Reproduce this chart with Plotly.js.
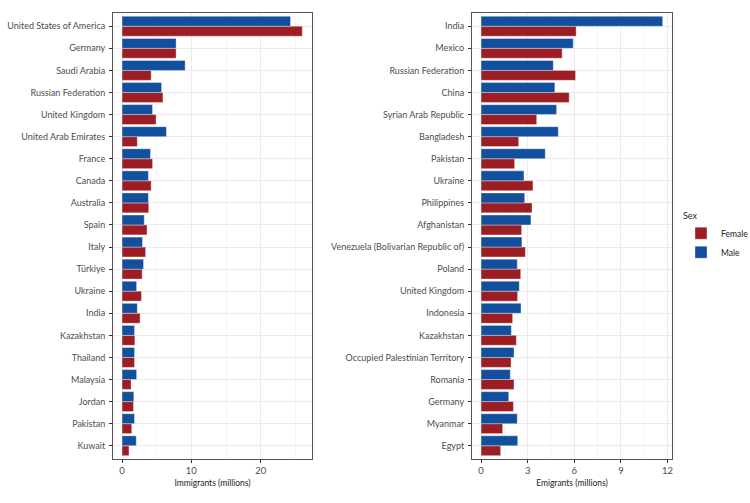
<!DOCTYPE html>
<html><head><meta charset="utf-8">
<script src="https://cdn.plot.ly/plotly-3.0.1.min.js"></script>
<style>html,body{margin:0;padding:0;background:#fff}#c{width:750px;height:503px}</style>
</head><body><div id="c"></div>
<script>
// Immigrants (destination countries), millions
const immCountries = ["United States of America","Germany","Saudi Arabia","Russian Federation","United Kingdom","United Arab Emirates","France","Canada","Australia","Spain","Italy","Türkiye","Ukraine","India","Kazakhstan","Thailand","Malaysia","Jordan","Pakistan","Kuwait"];
const immFemale = [26.0,7.8,4.2,5.9,4.9,2.2,4.4,4.2,3.85,3.6,3.4,2.9,2.8,2.6,1.85,1.8,1.3,1.65,1.4,1.0];
const immMale   = [24.3,7.8,9.1,5.7,4.4,6.4,4.1,3.8,3.8,3.2,2.95,3.1,2.1,2.2,1.8,1.8,2.1,1.7,1.8,2.05];

// Emigrants (origin countries), millions
const emiCountries = ["India","Mexico","Russian Federation","China","Syrian Arab Republic","Bangladesh","Pakistan","Ukraine","Philippines","Afghanistan","Venezuela (Bolivarian Republic of)","Poland","United Kingdom","Indonesia","Kazakhstan","Occupied Palestinian Territory","Romania","Germany","Myanmar","Egypt"];
const emiFemale = [6.12,5.22,6.08,5.67,3.58,2.42,2.16,3.34,3.28,2.61,2.85,2.55,2.35,2.03,2.27,1.93,2.12,2.08,1.39,1.26];
const emiMale   = [11.69,5.93,4.65,4.75,4.86,4.97,4.13,2.76,2.81,3.21,2.63,2.33,2.46,2.57,1.95,2.12,1.88,1.78,2.33,2.36];

const sexLabels = ["Female","Male"];
const colFemale = "#9C1E24", colMale = "#12509E";

const FONT = "Lato, 'Open Sans', sans-serif";
const bar = (x, y, name, color, xa, ya, show) => ({
  type: "bar", orientation: "h", x: x, y: y, name: name,
  marker: {color: color, line: {color: "rgba(255,255,255,0.6)", width: 0.6}},
  xaxis: xa, yaxis: ya, showlegend: show, legendgroup: name, hoverinfo: "x+y+name"
});

const data = [
  bar(immFemale, immCountries, sexLabels[0], colFemale, "x", "y", true),
  bar(immMale, immCountries, sexLabels[1], colMale, "x", "y", true),
  bar(emiFemale, emiCountries, sexLabels[0], colFemale, "x2", "y2", false),
  bar(emiMale, emiCountries, sexLabels[1], colMale, "x2", "y2", false)
];

const xBase = {
  showgrid: true, gridcolor: "#EBEBEB", gridwidth: 1,
  minor: {showgrid: true, gridcolor: "#F4F4F4", gridwidth: 0.6},
  zeroline: false, showline: true, mirror: true, linecolor: "#555", linewidth: 1,
  ticks: "outside", ticklen: 3, tickcolor: "#333", tickwidth: 1,
  tickfont: {family: FONT, size: 9.5, color: "#4D4D4D"}
};
const yBase = {
  type: "category", showgrid: true, gridcolor: "#EBEBEB", gridwidth: 1,
  zeroline: false, showline: true, mirror: true, linecolor: "#555", linewidth: 1,
  ticks: "outside", ticklen: 3, tickcolor: "#333", tickwidth: 1,
  tickfont: {family: FONT, size: 9, color: "#4D4D4D"}, ticklabelstandoff: 2
};

const layout = {
  width: 750, height: 503,
  margin: {l: 0, r: 0, t: 13, b: 44, autoexpand: false},
  paper_bgcolor: "#fff", plot_bgcolor: "#fff",
  font: {family: FONT, size: 10, color: "#222"},
  barmode: "group", bargap: 0.1, bargroupgap: 0,
  xaxis: Object.assign({}, xBase, {domain: [0.1507, 0.416], anchor: "y", range: [-1.3, 27.4], dtick: 10, tick0: 0,
    minor: Object.assign({}, xBase.minor, {dtick: 5}),
    title: {text: "Immigrants (millions)", font: {family: FONT, size: 8.5, color: "#222"}, standoff: 4}}),
  yaxis: Object.assign({}, yBase, {domain: [0, 1], anchor: "x", categoryorder: "array",
    categoryarray: immCountries.slice().reverse(), range: [-0.6, 19.6]}),
  xaxis2: Object.assign({}, xBase, {domain: [0.6293, 0.896], anchor: "y2", range: [-0.585, 12.29], dtick: 3, tick0: 0,
    minor: Object.assign({}, xBase.minor, {dtick: 1.5}),
    title: {text: "Emigrants (millions)", font: {family: FONT, size: 8.5, color: "#222"}, standoff: 4}}),
  yaxis2: Object.assign({}, yBase, {domain: [0, 1], anchor: "x2", categoryorder: "array",
    categoryarray: emiCountries.slice().reverse(), range: [-0.6, 19.6]}),
  legend: {x: 0.908, y: 0.565, xanchor: "left", yanchor: "top", traceorder: "normal",
    title: {text: "Sex", font: {family: FONT, size: 9, color: "#222"}},
    font: {family: FONT, size: 8.5, color: "#222"}, itemwidth: 30, bgcolor: "rgba(0,0,0,0)"}
};

Plotly.newPlot("c", data, layout, {displayModeBar: false, responsive: false});
</script></body></html>
